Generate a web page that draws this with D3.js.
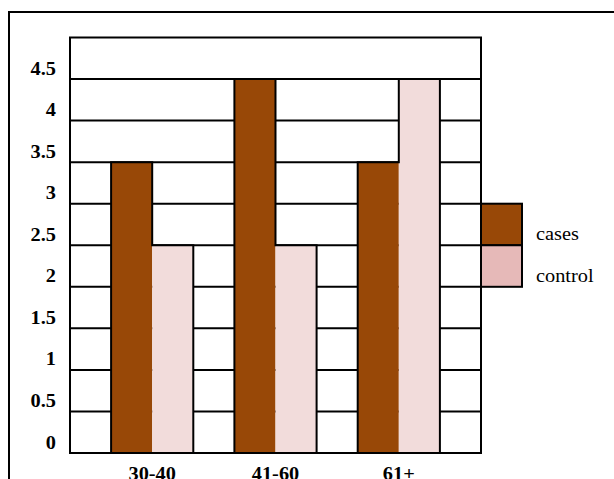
<!DOCTYPE html>
<html>
<head>
<meta charset="utf-8">
<script src="https://cdn.jsdelivr.net/npm/d3@7"></script>
<style>
  html, body { margin: 0; padding: 0; background: #ffffff; }
  svg { display: block; }
</style>
</head>
<body>
<svg id="chart" width="614" height="479"></svg>
<script>
// Age groups and the two series
const categories = ["30-40", "41-60", "61+"];
const seriesNames = ["cases", "control"];
const casesValues = [3.5, 4.5, 3.5];
const controlValues = [2.5, 2.5, 4.5];
const yTickValues = [0, 0.5, 1, 1.5, 2, 2.5, 3, 3.5, 4, 4.5];
const yMax = 5;

const barColors = { cases: "#984807", control: "#F2DCDB" };
const legendColors = { cases: "#984807", control: "#E6B9B8" };

const serif = "'Liberation Serif', 'Times New Roman', 'DejaVu Serif', serif";
const svg = d3.select("#chart");
const plot = { left: 70, right: 481, top: 37.5, bottom: 453 };
const stretch = 1.13; // glyphs are drawn slightly wide

// outer frame (runs off the right and bottom edges)
svg.append("rect")
  .attr("x", 9).attr("y", 12)
  .attr("width", 700).attr("height", 600)
  .attr("fill", "none").attr("stroke", "#000").attr("stroke-width", 2);

const y = d3.scaleLinear().domain([0, yMax]).range([plot.bottom, plot.top]);
const x0 = d3.scaleBand().domain(categories)
  .range([plot.left, plot.right])
  .paddingInner(1 / 3).paddingOuter(1 / 3);
const x1 = d3.scaleBand().domain(seriesNames).range([0, x0.bandwidth()]);

// horizontal grid lines at every tick step
svg.append("g").selectAll("line")
  .data(yTickValues.filter(v => v > 0))
  .join("line")
  .attr("x1", plot.left).attr("x2", plot.right)
  .attr("y1", d => y(d)).attr("y2", d => y(d))
  .attr("stroke", "#000").attr("stroke-width", 2);

// bars
const rows = categories.map((c, i) => ({ cat: c, cases: casesValues[i], control: controlValues[i] }));
const groups = svg.append("g").selectAll("g")
  .data(rows).join("g")
  .attr("transform", d => `translate(${x0(d.cat)},0)`);

groups.selectAll("rect")
  .data(d => seriesNames.map(k => ({ key: k, value: d[k] })))
  .join("rect")
  .attr("x", d => x1(d.key))
  .attr("width", x1.bandwidth())
  .attr("y", d => y(d.value))
  .attr("height", d => y(0) - y(d.value))
  .attr("fill", d => barColors[d.key]);

// outline around each pair of bars
groups.append("path")
  .attr("d", d => {
    const w = x1.bandwidth();
    return `M0,${y(0)}V${y(d.cases)}H${w}V${y(d.control)}H${2 * w}V${y(0)}`;
  })
  .attr("fill", "none").attr("stroke", "#000").attr("stroke-width", 2);

// plot frame
svg.append("rect")
  .attr("x", plot.left).attr("y", plot.top)
  .attr("width", plot.right - plot.left).attr("height", plot.bottom - plot.top)
  .attr("fill", "none").attr("stroke", "#000").attr("stroke-width", 2);

// y axis labels
const yAxis = svg.append("g")
  .attr("transform", `translate(${plot.left},0)`)
  .call(d3.axisLeft(y).tickValues(yTickValues).tickSize(0).tickPadding(14).tickFormat(d3.format("")));
yAxis.attr("font-family", serif);
yAxis.select(".domain").remove();
yAxis.selectAll("text")
  .attr("x", -14 / stretch)
  .attr("dy", -5)
  .attr("transform", `scale(${stretch},1)`)
  .attr("fill", "#000")
  .style("font-family", serif)
  .style("font-size", "18px")
  .style("font-weight", "bold");

// x axis labels
const xAxis = svg.append("g")
  .attr("transform", `translate(0,${plot.bottom})`)
  .call(d3.axisBottom(x0).tickSize(0).tickPadding(0));
xAxis.attr("font-family", serif);
xAxis.select(".domain").remove();
xAxis.selectAll("text")
  .attr("y", 0).attr("dy", 27)
  .attr("transform", `scale(${stretch},1)`)
  .attr("fill", "#000")
  .style("font-family", serif)
  .style("font-size", "18px")
  .style("font-weight", "bold");

// legend
const legendTop = y(3);
const legendStep = y(2.5) - y(3);
const legend = svg.append("g").selectAll("g")
  .data(seriesNames).join("g")
  .attr("transform", (d, i) => `translate(${plot.right},${legendTop + i * legendStep})`);
legend.append("rect")
  .attr("width", 41).attr("height", legendStep)
  .attr("fill", d => legendColors[d])
  .attr("stroke", "#000").attr("stroke-width", 2);
legend.append("text")
  .attr("transform", `translate(55,${legendStep / 2 + 16}) scale(${stretch},1)`)
  .attr("fill", "#000")
  .style("font-family", serif)
  .style("font-size", "18px")
  .text(d => d);
</script>
</body>
</html>
